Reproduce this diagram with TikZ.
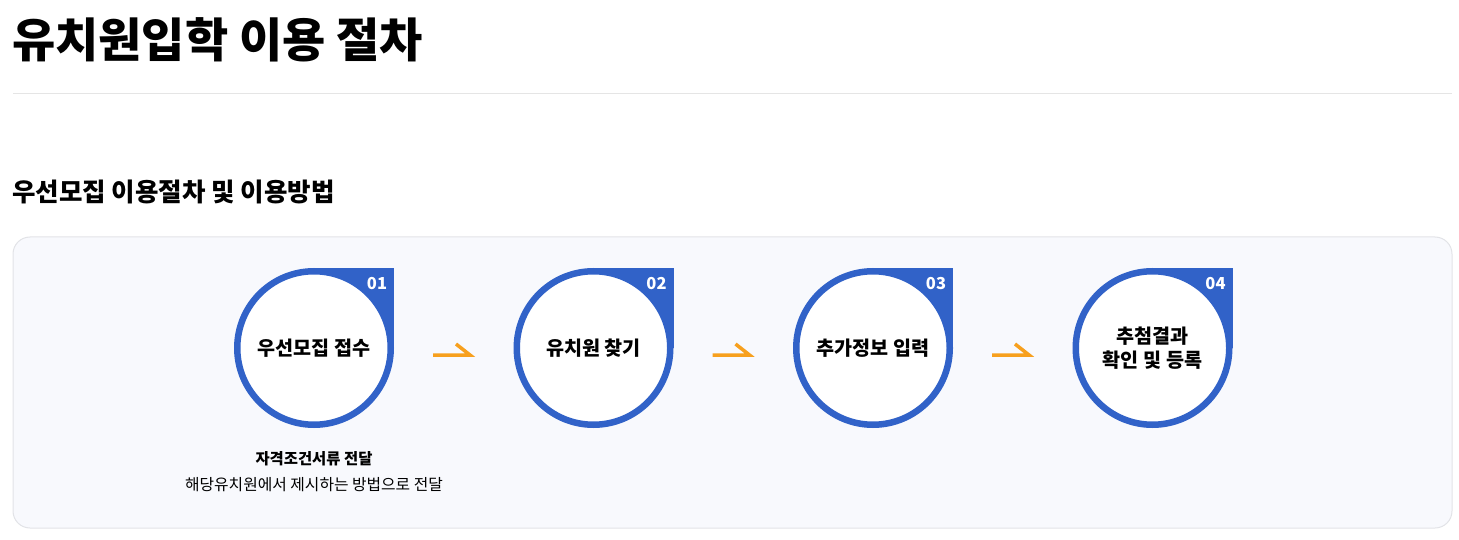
\documentclass[tikz,border=0pt]{standalone}
\usepackage{fontspec}
\setmainfont{Noto Sans CJK KR}
\usetikzlibrary{positioning}

\definecolor{stepblue}{RGB}{49,98,200}
\definecolor{steporange}{RGB}{247,160,30}
\definecolor{panelfill}{RGB}{248,249,253}
\definecolor{panelline}{RGB}{226,227,231}
\definecolor{rulegray}{RGB}{229,229,229}

\tikzset{
  stepcircle/.style={circle, draw=stepblue, line width=6.5pt, fill=white,
    minimum size=153.5pt, inner sep=0pt, align=center,
    font=\fontsize{19.6}{24}\selectfont\bfseries},
  stepnum/.style={text=white, font=\fontsize{16.5}{17}\selectfont\bfseries},
  steparrow/.style={draw=steporange, line width=3.5pt, line cap=butt, line join=miter},
}

\begin{document}
\begin{tikzpicture}[x=1pt,y=1pt]
  \useasboundingbox (0,0) rectangle (1459,539);

  \node[anchor=west, inner sep=0pt, font=\fontsize{47}{52}\selectfont\bfseries] at (12,499) (title) {유치원입학 이용 절차};
  \draw[rulegray, line width=1pt] (13,445) -- (1452,445);

  \node[anchor=west, inner sep=0pt, font=\fontsize{25.5}{30}\selectfont\bfseries] at (12,347) (subtitle) {우선모집 이용절차 및 이용방법};

  \draw[panelline, fill=panelfill, line width=1pt, rounded corners=17pt] (13,11) rectangle (1452,302);

  % corner squares behind the circles
  \fill[stepblue] (314,191) rectangle (394,271);
  \fill[stepblue] (593.5,191) rectangle (673.5,271);
  \fill[stepblue] (873,191) rectangle (953,271);
  \fill[stepblue] (1152.5,191) rectangle (1232.5,271);

  \node[stepcircle] at (314,191) (s1) {우선모집 접수};
  \node[stepcircle] at (593.5,191) (s2) {유치원 찾기};
  \node[stepcircle] at (873,191) (s3) {추가정보 입력};
  \node[stepcircle] at (1152.5,191) (s4) {추첨결과\\확인 및 등록};

  \node[stepnum] at (377,255) (n1) {01};
  \node[stepnum] at (656.5,255) (n2) {02};
  \node[stepnum] at (936,255) (n3) {03};
  \node[stepnum] at (1215.5,255) (n4) {04};

  \draw[steparrow] ([xshift=39pt,yshift=-7pt]s1.east) -- ++(37,0) -- ++(-14,11);
  \draw[steparrow] ([xshift=39pt,yshift=-7pt]s2.east) -- ++(37,0) -- ++(-14,11);
  \draw[steparrow] ([xshift=39pt,yshift=-7pt]s3.east) -- ++(37,0) -- ++(-14,11);

  \node[font=\fontsize{15.4}{17}\selectfont\bfseries] at (314,80) (d1) {자격조건서류 전달};
  \node[font=\fontsize{15.8}{17}\selectfont, below=4pt of d1] (d2) {해당유치원에서 제시하는 방법으로 전달};

\end{tikzpicture}
\end{document}
